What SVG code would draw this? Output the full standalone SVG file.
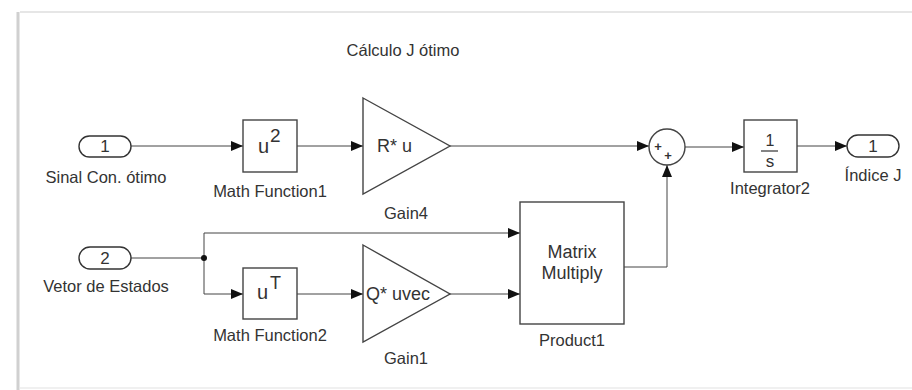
<svg xmlns="http://www.w3.org/2000/svg" width="912" height="390" viewBox="0 0 912 390">
<style>
text{font-family:"Liberation Sans",Arial,sans-serif;fill:#333;}
.lbl{font-size:16.5px;text-anchor:middle;}
.blk{fill:#fff;stroke:#444;stroke-width:1.4;}
.port{fill:#fff;stroke:#333;stroke-width:1.4;}
.wire{fill:none;stroke:#444;stroke-width:1;}
.in{font-size:17px;text-anchor:middle;}
.bt{font-size:18px;}
.pl{font-size:13px;text-anchor:middle;font-weight:bold;}
</style>
<defs>
<marker id="ah" markerUnits="userSpaceOnUse" markerWidth="12" markerHeight="10" refX="12" refY="5" orient="auto">
<path d="M0,0 L12,5 L0,10 z" fill="#111"/>
</marker>
</defs>
<rect x="0" y="0" width="912" height="390" fill="#fff"/>
<g id="frame">
<line x1="18" y1="12" x2="18" y2="390" stroke="#d0d0d0" stroke-width="3"/>
<line x1="20" y1="12" x2="912" y2="12" stroke="#e6e6e6" stroke-width="2"/>
<line x1="20" y1="388" x2="912" y2="388" stroke="#f0f0f0" stroke-width="2"/>
</g>
<text id="title" x="403" y="56" class="lbl">Cálculo J ótimo</text>
<g id="connectors">
<path class="wire" d="M131,146 H243" marker-end="url(#ah)"/>
<path class="wire" d="M297,146 H363" marker-end="url(#ah)"/>
<path class="wire" d="M450,146 H649" marker-end="url(#ah)"/>
<path class="wire" d="M685,147 H744" marker-end="url(#ah)"/>
<path class="wire" d="M797,146 H847" marker-end="url(#ah)"/>
<path class="wire" d="M131,258 H204"/>
<path class="wire" d="M204,258 V233 H520" marker-end="url(#ah)"/>
<path class="wire" d="M204,258 V294 H243" marker-end="url(#ah)"/>
<path class="wire" d="M297,294 H363" marker-end="url(#ah)"/>
<path class="wire" d="M450,294 H520" marker-end="url(#ah)"/>
<path class="wire" d="M624,267 H667 V165" marker-end="url(#ah)"/>
<circle cx="204" cy="258" r="3" fill="#111"/>
</g>
<g id="in1">
<rect class="port" x="79" y="136" width="52" height="21" rx="10.5"/>
<text class="in" x="105" y="152">1</text>
<text class="lbl" x="106" y="183">Sinal Con. ótimo</text>
</g>
<g id="mathfunction1">
<rect class="blk" x="243" y="120" width="54" height="52"/>
<text x="258" y="153" font-size="20px">u</text>
<text x="270" y="142" font-size="19px">2</text>
<text class="lbl" x="270" y="197">Math Function1</text>
</g>
<g id="gain4">
<polygon class="blk" points="363,98 450,146 363,194"/>
<text class="bt" x="377" y="152">R* u</text>
<text class="lbl" x="406" y="219">Gain4</text>
</g>
<g id="sum">
<circle class="blk" cx="667" cy="147" r="18"/>
<text class="pl" x="658" y="151">+</text>
<text class="pl" x="668" y="160">+</text>
</g>
<g id="integrator2">
<rect class="blk" x="744" y="120" width="53" height="52"/>
<text x="770" y="146" font-size="16px" text-anchor="middle">1</text>
<line x1="761" y1="151" x2="778" y2="151" stroke="#333" stroke-width="1.2"/>
<text x="770" y="167" font-size="17px" text-anchor="middle">s</text>
<text class="lbl" x="770" y="194">Integrator2</text>
</g>
<g id="out1">
<rect class="port" x="847" y="135" width="52" height="22" rx="11"/>
<text class="in" x="873" y="152">1</text>
<text class="lbl" x="873" y="181">Índice J</text>
</g>
<g id="in2">
<rect class="port" x="79" y="247" width="52" height="22" rx="11"/>
<text class="in" x="105" y="264">2</text>
<text class="lbl" x="106" y="292">Vetor de Estados</text>
</g>
<g id="mathfunction2">
<rect class="blk" x="243" y="268" width="54" height="51"/>
<text x="257" y="299" font-size="20px">u</text>
<text x="270" y="289" font-size="18px">T</text>
<text class="lbl" x="270" y="341">Math Function2</text>
</g>
<g id="gain1">
<polygon class="blk" points="363,245 450,294 363,342"/>
<text class="bt" x="366" y="300">Q* uvec</text>
<text class="lbl" x="406" y="364">Gain1</text>
</g>
<g id="product1">
<rect class="blk" x="520" y="202" width="104" height="122"/>
<text class="bt" x="572" y="258" text-anchor="middle">Matrix</text>
<text class="bt" x="572" y="279" text-anchor="middle">Multiply</text>
<text class="lbl" x="572" y="346">Product1</text>
</g>
</svg>
